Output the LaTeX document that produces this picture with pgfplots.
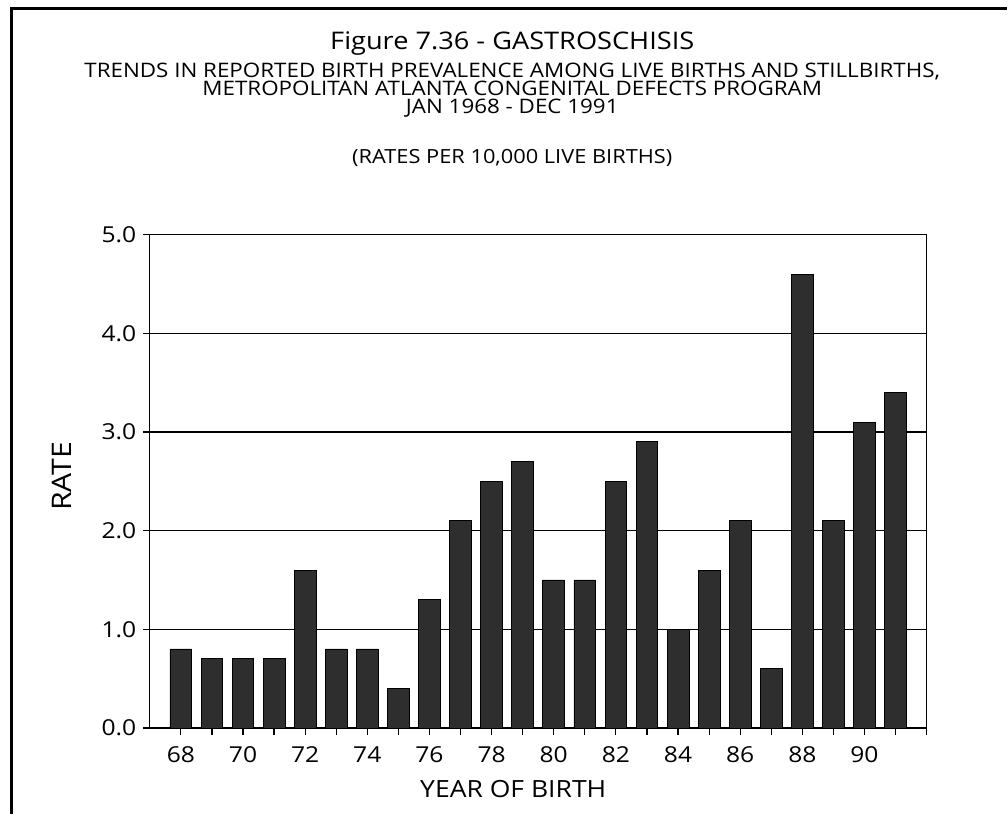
\documentclass[border=0pt]{standalone}
\usepackage{fontspec}
\setmainfont{Open Sans}
\newfontfamily\widefont{Open Sans}[FakeStretch=1.12]
\usepackage{pgfplots}
\pgfplotsset{compat=1.18}
\begin{document}
\begin{tikzpicture}
% page frame (1px = 1pt)
\path (0pt,0pt) rectangle (1008pt,815pt);
\draw[line width=3pt] (12pt,0pt) -- (12pt,806.5pt) -- (1008pt,806.5pt);

\begin{axis}[
    at={(150pt,86pt)}, anchor=south west,
    scale only axis,
    width=778pt, height=494pt,
    xmin=67, xmax=92,
    ymin=0, ymax=5,
    axis line style={line width=1.4pt},
    ytick={0,1,...,5},
    xtick={68,...,92},
    xticklabels={68,,70,,72,,74,,76,,78,,80,,82,,84,,86,,88,,90,,},
    yticklabel style={xshift=-3pt,
        /pgf/number format/fixed,
        /pgf/number format/fixed zerofill,
        /pgf/number format/precision=1},
    /pgf/number format/assume math mode=true,
    tick label style={font=\widefont\fontsize{22}{22}\selectfont},
    xticklabel style={yshift=-8pt},
    tick align=outside,
    xtick pos=bottom, ytick pos=left,
    major tick length=7pt,
    tick style={black, line width=1.2pt},
    ymajorgrids,
    major grid style={black, line width=1.2pt},
]
\addplot[ybar, bar width=0.7, fill=black!82, draw=black, line width=0.8pt]
coordinates {
    (68,0.8) (69,0.7) (70,0.7) (71,0.7) (72,1.6) (73,0.8)
    (74,0.8) (75,0.4) (76,1.3) (77,2.1) (78,2.5) (79,2.7)
    (80,1.5) (81,1.5) (82,2.5) (83,2.9) (84,1.0) (85,1.6)
    (86,2.1) (87,0.6) (88,4.6) (89,2.1) (90,3.1) (91,3.4)
};
\end{axis}

% titles
\node[font=\widefont\fontsize{24.3}{24.3}\selectfont] at (513pt,771pt) {Figure 7.36 - GASTROSCHISIS};
\node[font=\widefont\fontsize{20}{18}\selectfont, align=center] at (513pt,725pt)
    {TRENDS IN REPORTED BIRTH PREVALENCE AMONG LIVE BIRTHS AND STILLBIRTHS,\\
     METROPOLITAN ATLANTA CONGENITAL DEFECTS PROGRAM\\
     JAN 1968 - DEC 1991};
\node[font=\widefont\fontsize{19.5}{19.5}\selectfont] at (513pt,657pt) {(RATES PER 10,000 LIVE BIRTHS)};

% axis labels
\node[font=\widefont\fontsize{27}{27}\selectfont, rotate=90] at (62pt,338pt) {RATE};
\node[font=\widefont\fontsize{23.7}{23.7}\selectfont] at (514pt,25pt) {YEAR OF BIRTH};
\end{tikzpicture}
\end{document}
